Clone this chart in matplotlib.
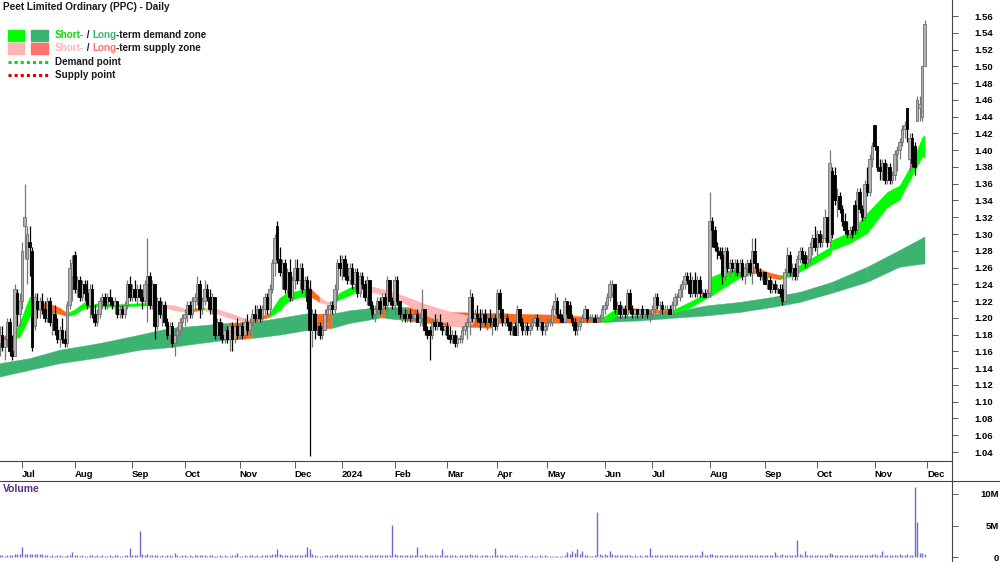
import matplotlib
matplotlib.use("Agg")
import matplotlib.pyplot as plt
import matplotlib.patches as mpatches
from matplotlib import font_manager
from matplotlib.transforms import IdentityTransform
from matplotlib.lines import Line2D
import numpy as np
import pandas as pd

W, H = 1000, 562

installed = {f.name for f in font_manager.fontManager.ttflist}
FONT = "Liberation Sans Narrow" if "Liberation Sans Narrow" in installed else "Liberation Sans"
plt.rcParams["font.family"] = [FONT, "DejaVu Sans"]

# trading days (ASX holidays removed)
START, END = "2023-06-20", "2024-11-29"
HOLIDAYS = ["2023-12-25", "2023-12-26", "2024-01-01", "2024-01-26",
            "2024-03-29", "2024-04-01", "2024-04-25", "2024-06-10"]

# daily prices in cents, one line per month (Jun-23 ... Nov-24)
opens = [
    117, 118, 116.5, 117.5, 119.5, 116, 115.5, 123, 120.5,
    122, 131, 127, 129, 128, 119, 122, 121, 122, 121, 120, 122, 119.5, 120.5, 118.5, 117.5, 118.5, 117.5, 117, 121.5, 125,
    127.5, 123.5, 124.5, 122.5, 124, 123, 121.5, 123.5, 120.5, 119.5, 120.5, 122, 122.5, 121.5, 122.5, 122, 121.5, 122, 120.5, 121, 120.5, 121.5, 124,
    122.5, 123.5, 122.5, 123.5, 122.5, 122, 124, 125, 121.5, 124, 119, 122, 120.5, 121.5, 119.5, 118, 119, 117, 118, 118.5, 119.5,
    120, 120.5, 121.5, 120.5, 122, 122.5, 124, 121, 122, 123.5, 122.5, 121, 122.5, 118, 119.5, 118, 117.5, 118.5, 117.5, 119, 117.5, 119,
    118, 119, 118, 119.5, 118.5, 119.5, 120.5, 120, 121, 120, 121, 122.5, 121, 123.5, 126.5, 131, 127, 125.5, 126.5, 123.5, 125.5, 122.5,
    124.5, 126, 124.5, 126, 123.5, 124.5, 123.5, 118.5, 120.5, 118.5, 119, 118, 118.5, 120.5, 121, 121.5, 121, 123.5, 126.5,
    126, 127, 125, 124.5, 126, 124, 125.5, 123, 125, 124, 122.5, 124.5, 121.5, 120.5, 121, 122, 121, 122.5, 121.5, 124.5, 122,
    121.5, 124.5, 122, 120.5, 120.5, 120, 120.5, 120, 120, 120.5, 119.5, 120, 121, 118.5, 118.5, 118, 119.5, 119, 119.5, 119, 118.5,
    119, 118, 117.5, 118, 117, 117.5, 117.5, 118.5, 119, 119.5, 122.5, 120, 120.5, 120, 119.5, 120.5, 119.5, 120, 119.5, 120,
    119, 123, 121, 119.5, 120, 119.5, 118.5, 119, 118, 121, 119.5, 118.5, 119, 118.5, 119, 119.5, 120, 119, 119.5, 118.5,
    119, 119.5, 119.5, 121, 122, 120.5, 120, 119.5, 122, 121.5, 120, 119.5, 118.5, 119, 119.5, 120, 121, 120, 120, 120, 119.5, 120, 120,
    121, 121.5, 122.5, 123, 124, 121, 121.5, 120.5, 121, 120.5, 123, 121, 120.5, 121, 120.5, 121, 120.5, 121, 120.5,
    120.5, 121, 122.5, 121.5, 121.5, 121, 121, 121, 120.5, 121.5, 122.5, 122.5, 123.5, 124, 125, 124.5, 123, 124.5, 123, 124.5, 123, 123, 122.5,
    123, 131.5, 130.5, 128.5, 128, 127.5, 125, 128, 126, 126.5, 126, 126.5, 125.5, 126.5, 125, 126, 126.5, 125.5, 128, 126.5, 125.5, 125,
    125.5, 124, 124.5, 123.5, 124, 123.5, 123.5, 123.5, 122, 125.5, 127.5, 125.5, 126, 125, 127, 128, 127.5, 126.5, 127, 128.5, 129.5,
    128.5, 130, 129, 129.5, 132, 129, 137.5, 137, 134, 134.5, 133, 131.5, 130.5, 130, 130.5, 133.5, 130.5, 135, 133, 132, 136, 135, 139,
    143, 140.5, 138, 137.5, 138.5, 136.5, 138, 136.5, 137, 139.5, 140, 141, 142.5, 145, 139, 141.5, 140.5, 143.5, 145, 144, 150,
]
highs = [
    119, 119, 118, 120, 120, 118, 124, 123.5, 123,
    129, 136, 131, 131, 128.5, 123, 123, 122.5, 123, 122, 122.5, 122.5, 121, 121.5, 120, 119, 120, 118.5, 122, 127, 127.5,
    128, 125, 125, 124.5, 124.5, 124.5, 124, 124, 121.5, 121, 122.5, 123, 123, 123, 123.5, 122.5, 122.5, 122, 121.5, 121.5, 122, 124.5, 125,
    124, 124.5, 124, 124, 123.5, 124.5, 129.5, 125.5, 124.5, 124, 122.5, 122.5, 122, 122, 120, 119.5, 119.5, 118.5, 119, 120, 120.5,
    121, 122, 122, 122.5, 123, 125, 124.5, 122.5, 124.5, 124, 123.5, 123, 122.5, 120, 120, 119.5, 119, 119, 119.5, 119.5, 119.5, 120,
    119.5, 119.5, 120, 120.5, 120, 121, 121.5, 121.5, 121.5, 121.5, 123, 123, 124, 127, 130, 131.5, 128.5, 127, 127, 126, 127, 125,
    127, 127, 126.5, 126.5, 125, 125, 124.5, 121, 121, 119.5, 119.5, 119, 121, 121.5, 122, 122, 124, 127, 127.5,
    127.5, 127.5, 126.5, 126.5, 126.5, 126, 126, 125.5, 125.5, 124.5, 125, 124.5, 122, 121.5, 122.5, 122.5, 123, 123, 125, 124.5, 122.5,
    125, 125, 122, 121, 121, 121, 121, 120.5, 121, 121, 120.5, 123.5, 121, 119, 119, 120, 120.5, 120, 120.5, 119.5, 119.5,
    119.5, 119, 118.5, 118.5, 118, 118, 119, 119.5, 120, 123.5, 123, 121, 121.5, 121, 121, 121, 120.5, 121, 120.5, 120.5,
    123.5, 123.5, 121, 120.5, 120.5, 119.5, 119.5, 119.5, 121.5, 121, 120, 119.5, 119.5, 119.5, 120, 120.5, 120.5, 120, 119.5, 119.5,
    120, 120, 121.5, 123, 122.5, 121, 120.5, 122.5, 122, 122, 120.5, 120, 119.5, 120, 120.5, 121.5, 121, 120.5, 120.5, 120.5, 120.5, 120.5, 121.5,
    122, 123, 124.5, 124.5, 124, 122, 122, 121.5, 121.5, 123.5, 123.5, 121.5, 121, 121, 121, 121.5, 121, 121, 121,
    121.5, 123, 123, 122, 122, 121.5, 121.5, 121.5, 122, 123, 123, 124, 124.5, 125.5, 125.5, 125.5, 125, 125.5, 125, 125, 123.5, 123.5, 123.5,
    135, 132, 131, 129, 128.5, 128.5, 128.5, 128.5, 127, 127, 127, 127, 127, 127, 126.5, 127, 127, 129.5, 129.5, 126.5, 126, 125.5,
    125.5, 125, 125, 124.5, 124.5, 124, 124, 124, 126, 128.5, 128, 126.5, 126.5, 127.5, 128.5, 128.5, 128, 127.5, 129, 130, 131,
    130.5, 130.5, 130, 133, 132, 140, 138, 138, 135.5, 135, 133.5, 132.5, 131.5, 131, 131, 134, 135.5, 135.5, 133.5, 136.5, 138, 139.5, 141,
    143, 140.5, 139, 139, 139, 138.5, 138.5, 137.5, 140, 140.5, 141.5, 143, 143.5, 145, 142, 142, 141, 146.5, 146.5, 150, 155.5,
]
lows = [
    115.5, 116, 115, 116.5, 115.5, 115, 115.5, 119, 119,
    121, 127, 124, 125, 116, 118.5, 120, 120, 120.5, 119.5, 119.5, 119, 118, 118, 117, 116.5, 117, 116.5, 116.5, 121, 122,
    123, 122.5, 122, 122, 122, 121, 120, 120, 119, 119, 120, 121, 121, 121, 121.5, 121, 120.5, 120, 120, 120, 120, 121, 122,
    122, 122, 121.5, 122, 121, 121.5, 119.5, 121, 121, 117.5, 118.5, 120, 119, 119, 117.5, 117, 116.5, 115.5, 117, 118, 118.5,
    119, 119.5, 120, 120, 121, 121.5, 120, 120.5, 121.5, 122, 120.5, 120.5, 117.5, 117.5, 117.5, 117, 117, 117, 116, 116, 117, 117.5,
    117.5, 117.5, 117.5, 118, 118, 119, 119.5, 119.5, 119.5, 119.5, 120.5, 120.5, 120.5, 123, 125, 126.5, 125, 123.5, 123, 123, 122, 122,
    123.5, 124, 123.5, 123, 122.5, 121, 103.5, 116.5, 117.5, 118, 117.5, 117.5, 118.5, 119.5, 120.5, 120.5, 120.5, 122, 125,
    124.5, 124.5, 124, 124, 123.5, 123.5, 122.5, 122.5, 123.5, 122, 121.5, 121, 120, 119.5, 120.5, 120.5, 120.5, 121, 120.5, 121.5, 121,
    120.5, 121.5, 120, 119.5, 119.5, 119.5, 119.5, 119.5, 119.5, 119.5, 119, 119, 118, 117.5, 115, 117.5, 118.5, 118.5, 118.5, 118, 118,
    117.5, 117, 117, 116.5, 116.5, 117, 117, 118, 117.5, 118, 119.5, 119, 119.5, 118.5, 119, 119, 118.5, 119, 118, 118.5,
    118.5, 120, 119, 119, 119, 118, 118, 118, 118, 119, 118, 118, 118, 118, 118.5, 119, 118.5, 118.5, 118, 118,
    118.5, 119, 119, 120.5, 120, 119.5, 119.5, 119.5, 120, 120, 119, 118, 118, 118.5, 119.5, 119.5, 119.5, 119.5, 119.5, 119.5, 119.5, 119.5, 120,
    120.5, 121, 122, 122.5, 120.5, 120, 120, 120, 120, 120, 120.5, 120, 120, 120, 120, 120, 120, 120, 119.5,
    120, 120.5, 121, 120.5, 120.5, 120.5, 120.5, 120.5, 120.5, 121, 121.5, 122, 122.5, 123.5, 124, 122.5, 122.5, 122.5, 122.5, 122.5, 122.5, 122.5, 122.5,
    122.5, 128.5, 128, 127, 127, 124, 124.5, 125.5, 125, 125.5, 125, 125, 125, 124.5, 124, 125, 125, 124, 126, 125, 124.5, 124.5,
    124, 123.5, 123, 123, 123, 123, 122.5, 121.5, 122, 125, 125, 124.5, 124.5, 124.5, 126.5, 126.5, 126, 126, 126.5, 127.5, 128,
    127.5, 128.5, 128.5, 129, 128.5, 128.5, 129.5, 133.5, 132, 132.5, 131, 130, 129.5, 129.5, 129.5, 130, 130, 132.5, 131.5, 131.5, 134.5, 134.5, 138,
    140, 137.5, 136.5, 136.5, 136, 136, 136, 136, 136.5, 137.5, 139, 140.5, 141.5, 141, 137.5, 138, 137, 143.5, 143.5, 143.5, 150,
]
closes = [
    118, 116.5, 117.5, 119.5, 116, 115.5, 123.5, 120.5, 122,
    128, 132, 130, 128.5, 116.5, 122.5, 121, 122, 121, 120, 122, 119.5, 120.5, 118.5, 117.5, 118.5, 117.5, 117, 121.5, 126, 126.5,
    123.5, 124.5, 122.5, 124, 123, 121.5, 123.5, 120.5, 119.5, 120.5, 122, 122.5, 121.5, 122.5, 122, 121.5, 122, 120.5, 121, 120.5, 121.5, 124, 122.5,
    123.5, 122.5, 123.5, 122.5, 122, 124, 125, 121.5, 124, 119, 122, 120.5, 121.5, 119.5, 118, 119, 117, 118, 118.5, 119.5, 120,
    120.5, 121.5, 120.5, 122, 122.5, 124, 121, 122, 123.5, 122.5, 121, 122.5, 118, 119.5, 118, 117.5, 118.5, 117.5, 119, 117.5, 119, 118,
    119, 118, 119.5, 118.5, 119.5, 120.5, 120, 121, 120, 121, 122.5, 121, 123.5, 126.5, 129.5, 127, 125.5, 126.5, 123.5, 125.5, 122.5, 124.5,
    126, 124.5, 126, 123.5, 124.5, 122, 118.5, 120.5, 118.5, 118.5, 118, 118.5, 120.5, 121, 121.5, 121, 123.5, 126.5, 126,
    127, 125, 124.5, 126, 124, 125.5, 123, 125, 124, 122.5, 124.5, 121.5, 120.5, 121, 122, 121, 122.5, 121.5, 124.5, 122, 121.5,
    124.5, 122, 120.5, 120.5, 120, 120.5, 120, 120, 120.5, 119.5, 120, 121, 118.5, 118, 118, 119.5, 119, 119.5, 119, 118.5, 119,
    118, 117.5, 118, 117, 117.5, 117.5, 118.5, 119, 119.5, 122.5, 120, 120.5, 120, 119.5, 120.5, 119.5, 120, 119.5, 120, 119,
    123, 121, 119.5, 120, 119.5, 118.5, 118.5, 118, 121, 119.5, 118.5, 119, 118.5, 119, 119.5, 120, 119, 119.5, 118.5, 119,
    119.5, 119.5, 121, 122, 120.5, 120, 119.5, 122, 120.5, 120, 119.5, 118.5, 119, 119.5, 120, 121, 120, 120, 120, 119.5, 120, 120, 121,
    121.5, 122.5, 124, 124, 121, 121.5, 120.5, 121, 120.5, 123, 121, 120.5, 121, 120.5, 121, 120.5, 121, 120.5, 120.5,
    121, 122.5, 121.5, 121.5, 121, 121, 121, 120.5, 121.5, 122.5, 122.5, 123.5, 124, 125, 124.5, 123, 124.5, 123, 124.5, 123, 123, 122.5, 123,
    131.5, 130.5, 128.5, 128, 127.5, 125, 128, 126, 126.5, 126, 126.5, 125.5, 126.5, 125, 126, 126.5, 125.5, 128, 126.5, 125.5, 125, 125,
    124, 124.5, 123.5, 124, 123.5, 123.5, 123, 122, 125.5, 127.5, 125.5, 126, 125, 127, 128, 127, 126.5, 127, 128.5, 129.5, 128.5,
    130, 129, 129.5, 132, 129, 138.5, 130, 134, 134.5, 133, 131.5, 130.5, 130, 130.5, 130, 130.5, 135, 133, 132, 136, 135, 139, 140.5,
    140.5, 138, 137.5, 138.5, 136.5, 138, 136.5, 137, 139.5, 140, 141, 142.5, 143, 142.5, 141.5, 138.5, 138, 146, 145.5, 150, 155,
]

# daily volume, thousands of shares
volume_k = [
    250, 300, 200, 350, 280, 300, 450, 500, 520,
    1600, 550, 500, 520, 480, 500, 520, 500, 480, 300, 250, 200, 280, 220, 300, 250, 200, 230, 260, 300, 800,
    300, 250, 220, 280, 240, 200, 260, 300, 220, 250, 230, 280, 210, 240, 260, 220, 250, 300, 240, 200, 260, 280, 1400,
    350, 300, 280, 4100, 400, 300, 450, 320, 260, 300, 250, 220, 280, 240, 260, 300, 220, 600, 250, 230, 260,
    260, 240, 300, 220, 280, 350, 300, 250, 270, 230, 260, 300, 240, 220, 250, 230, 270, 240, 220, 260, 250, 700,
    240, 220, 260, 230, 250, 280, 240, 260, 230, 250, 280, 300, 350, 420, 500, 1300, 450, 380, 300, 350, 280, 300,
    300, 280, 350, 320, 400, 1600, 1300, 500, 350, 200, 150, 180, 250, 300, 260, 280, 350, 400, 300,
    320, 280, 260, 300, 250, 280, 300, 260, 240, 280, 300, 320, 350, 280, 260, 300, 250, 280, 320, 300, 5100,
    400, 350, 320, 300, 280, 300, 260, 280, 300, 1600, 350, 300, 400, 320, 280, 300, 260, 280, 300, 1300, 280,
    260, 280, 300, 250, 240, 260, 280, 300, 320, 450, 350, 280, 260, 240, 250, 280, 260, 240, 300, 1500,
    350, 300, 280, 260, 240, 250, 270, 300, 260, 240, 220, 250, 240, 230, 250, 220, 240, 260, 230, 250,
    220, 200, 180, 160, 150, 170, 200, 300, 800, 400, 1000, 600, 1200, 500, 900, 350, 250, 220, 200, 250, 7100, 400, 300,
    400, 350, 1000, 450, 380, 300, 280, 260, 300, 280, 260, 240, 250, 230, 260, 240, 250, 280, 1400,
    350, 300, 280, 320, 300, 280, 260, 300, 280, 320, 350, 300, 320, 340, 300, 280, 300, 320, 300, 280, 900, 300, 280,
    500, 400, 350, 300, 320, 300, 280, 300, 260, 280, 300, 260, 250, 280, 300, 260, 280, 320, 300, 260, 280, 300,
    280, 260, 300, 280, 800, 300, 280, 400, 350, 300, 280, 260, 300, 2700, 400, 350, 1000, 300, 280, 300, 260,
    280, 300, 260, 320, 300, 600, 450, 350, 300, 280, 260, 300, 280, 260, 300, 280, 320, 300, 280, 300, 350, 320, 400,
    400, 350, 300, 900, 320, 300, 280, 300, 320, 350, 400, 380, 350, 420, 380, 350, 11100, 5600, 600, 700, 500,
]

# long-term zone edges (cents) read at these trading-day numbers; state per segment
lt_day = [0, 12, 24, 40, 56, 68, 80, 91, 101, 112, 124, 127, 133, 140, 152, 154, 163, 180,
          196, 200, 216, 241, 256, 269, 283, 296, 309, 320, 333, 347, 360, 370]
lt_top = [114.6, 115.2, 116.2, 117.0, 118.0, 118.8, 119.1, 119.4, 119.5, 120.0, 120.6, 120.5,
          120.5, 120.9, 121.3, 121.3, 121.3, 120.7, 120.6, 120.6, 120.3, 120.1, 120.3, 120.7,
          121.5, 121.9, 122.5, 123.1, 124.3, 126.1, 128.1, 129.7]
lt_bot = [113.0, 113.8, 114.6, 115.3, 116.2, 116.5, 117.0, 117.4, 117.6, 118.0, 118.6, 118.6,
          118.8, 119.4, 120.0, 120.0, 119.7, 119.1, 118.8, 119.4, 119.4, 119.5, 119.7, 120.0,
          120.3, 120.7, 121.3, 121.9, 123.0, 124.3, 126.1, 126.5]
lt_state = "GGGGGGGOGGGOGGOGOOOOOGGGGGGGGGG"

# short-term zone edges (cents); g = demand, p = supply, o = supply (dark)
st_day = [0, 5, 8, 12, 14, 15, 20, 24, 27, 30, 34, 38, 44, 52, 60, 63, 70, 75, 80, 82,
          84, 92, 100, 104, 108, 112, 115, 120, 123, 124, 128, 131, 133, 136, 140, 144, 145, 148, 155, 161,
          168, 175, 181, 187, 190, 200, 220, 241, 244, 247, 248, 260, 269, 276, 283, 284, 288, 296, 301, 303,
          307, 312, 313, 319, 320, 332, 333, 340, 347, 355, 360, 364, 369, 370]
st_top = [117.8, 117.8, 119.4, 122.5, 122.3, 121.8, 121.7, 121.2, 120.6, 121.0,
          121.9, 121.6, 121.6, 121.7, 121.8, 121.7, 121.5, 121.0, 121.2, 121.2,
          121.3, 120.6, 119.7, 120.2, 120.6, 122.4, 123.0, 123.3, 123.7, 123.6,
          122.5, 121.9, 122.0, 123.0, 123.6, 124.0, 124.1, 123.8, 123.3, 122.7,
          121.9, 121.2, 120.7, 120.3, 120.4, 120.5, 120.4, 120.0, 120.6, 121.2,
          121.3, 121.0, 120.9, 121.9, 123.0, 124.8, 125.3, 126.0, 126.1, 126.0,
          125.5, 125.1, 125.1, 126.0, 126.3, 128.4, 129.3, 130.2, 132.5, 135.0,
          135.8, 137.9, 141.5, 141.8]
st_bot = [117.6, 117.5, 117.7, 120.1, 120.8, 121.0, 120.7, 120.5, 120.2, 120.4,
          121.2, 121.3, 121.3, 121.4, 121.5, 121.5, 120.9, 120.7, 120.9, 120.9,
          120.8, 120.0, 119.4, 119.8, 120.1, 120.9, 121.9, 122.5, 122.5, 122.6,
          121.9, 121.6, 121.8, 122.2, 122.7, 123.3, 123.7, 123.1, 122.7, 121.9,
          120.7, 119.7, 119.1, 118.8, 119.6, 120.0, 120.0, 119.7, 119.7, 120.3,
          120.7, 120.6, 120.6, 121.2, 122.4, 122.5, 123.3, 124.8, 125.3, 125.3,
          124.9, 124.6, 124.7, 125.1, 125.5, 127.5, 128.1, 128.9, 130.1, 133.2,
          134.1, 136.4, 139.2, 139.2]
st_state = ("oggggooo" "ggggggg" "ppo" "gppp" "oo" "gggg" "oopp" "gggg" "o"
            "ppppppp" "ooo" "gg" "ooo" "gggggg" "oooo" "ggggggggggg")

ZONE_COLORS = {"G": "#3cb371", "O": "#ff6a1a", "g": "#00ff00", "p": "#ffb6b6", "o": "#ff6a1a"}


def px_axes(fig, x0, y0, x1, y1):
    return fig.add_axes([x0 / W, 1 - y1 / H, (x1 - x0) / W, (y1 - y0) / H])


def draw_zone(ax, days, top, bot, states, z):
    days = np.asarray(days, float)
    top = np.asarray(top) / 100
    bot = np.asarray(bot) / 100
    for i, s in enumerate(states):
        col = ZONE_COLORS[s]
        ax.fill_between(days[i:i + 2], bot[i:i + 2], top[i:i + 2], color=col,
                        edgecolor=col, lw=0.3, zorder=z)


def colored_text(fig, x, y, parts, size):
    r = fig.canvas.get_renderer()
    for s, col in parts:
        t = fig.text(x, H - y, s, color=col, fontsize=size, fontweight="bold",
                     va="center", ha="left", transform=IdentityTransform())
        x += t.get_window_extent(r).width


def main():
    days = pd.bdate_range(START, END)
    days = days[~days.isin(pd.to_datetime(HOLIDAYS))]
    n = len(days)
    o = np.array(opens) / 100
    hi = np.array(highs) / 100
    lo = np.array(lows) / 100
    c = np.array(closes) / 100
    vol = np.array(volume_k) * 1000
    assert n == len(o) == len(hi) == len(lo) == len(c) == len(vol), (n, len(o), len(hi), len(lo), len(c), len(vol))
    x = np.arange(n)

    fig = plt.figure(figsize=(W / 100, H / 100), dpi=100)
    ax = px_axes(fig, 0, 0, 952, 461)
    axv = px_axes(fig, 0, 481, 952, 562)

    # zones
    draw_zone(ax, lt_day, lt_top, lt_bot, lt_state, 1)
    draw_zone(ax, st_day, st_top, st_bot, st_state, 2)

    # candles
    up = c >= o
    body_lo = np.minimum(o, c)
    body_h = np.maximum(np.abs(c - o), 0.0008)
    ax.vlines(x[up], lo[up], hi[up], color="#777777", lw=0.9, zorder=3)
    ax.vlines(x[~up], lo[~up], hi[~up], color="black", lw=0.9, zorder=3)
    ax.bar(x[up], body_h[up], bottom=body_lo[up], width=0.9, color="#b0b0b0",
           edgecolor="#707070", lw=0.6, zorder=4)
    ax.bar(x[~up], body_h[~up], bottom=body_lo[~up], width=0.9, color="black",
           edgecolor="black", lw=0.6, zorder=4)

    ax.set_xlim(0.2, 381.0)
    ax.set_ylim(1.0293, 1.5791)

    # month ticks
    pos, lbl = [], []
    for i in range(1, n):
        if days[i].month != days[i - 1].month:
            pos.append(i)
            lbl.append(str(days[i].year) if days[i].month == 1 else days[i].strftime("%b"))
    pos.append(n)
    lbl.append("Dec")
    ax.set_xticks(pos)
    ax.set_xticklabels(lbl, ha="left", fontweight="bold")
    ax.tick_params(axis="x", direction="out", length=5, width=0.6, color="#444444",
                   pad=1.5, labelsize=6.8)

    yt = np.arange(104, 157, 2) / 100
    ax.yaxis.tick_right()
    ax.set_yticks(yt)
    ax.set_yticklabels([f"{v:.2f}" for v in yt], fontweight="bold")
    ax.tick_params(axis="y", direction="out", length=4, width=0.6, color="#444444",
                   pad=12, labelsize=6.8)
    for s in ("top", "left"):
        ax.spines[s].set_visible(False)
    for s in ("right", "bottom"):
        ax.spines[s].set_color("#444444")
        ax.spines[s].set_linewidth(0.8)

    # volume pane
    axv.vlines(x, 0, vol, color="#6a6ad8", lw=1.0)
    axv.set_xlim(0.2, 381.0)
    axv.set_ylim(-0.79e6, 12.06e6)
    axv.set_xticks([])
    axv.yaxis.tick_right()
    axv.set_yticks([0, 5e6, 10e6])
    axv.set_yticklabels(["0", "5M", "10M"], ha="right", fontweight="bold")
    axv.tick_params(axis="y", direction="out", length=4, width=0.6, color="#444444",
                    pad=30, labelsize=6.8)
    for s in ("top", "left", "bottom"):
        axv.spines[s].set_visible(False)
    axv.spines["right"].set_color("#444444")
    axv.spines["right"].set_linewidth(0.8)

    idt = IdentityTransform()
    fig.add_artist(Line2D([0, W], [H - 481, H - 481], color="#444444", lw=0.8, transform=idt))
    fig.add_artist(Line2D([952, 952], [H - 481, H - 461], color="#444444", lw=0.8, transform=idt))

    fig.text(3, H - 489, "Volume", color="#5a2d91", fontsize=7.5, fontweight="bold",
             va="center", ha="left", transform=idt)

    # title and legend
    fig.text(3, H - 7, "Peet Limited Ordinary (PPC) - Daily", color="#1a1a1a", fontsize=7.2,
             fontweight="bold", va="center", ha="left", transform=idt)
    for (y0, c1, c2) in ((30, "#00ff00", "#3cb371"), (43, "#ffb3b3", "#ff7070")):
        fig.add_artist(mpatches.Rectangle((8, H - y0 - 11), 16, 11, color=c1, transform=idt))
        fig.add_artist(mpatches.Rectangle((31, H - y0 - 11), 17, 11, color=c2, transform=idt))
    colored_text(fig, 55, 35, [("Short-", "#00e000"), (" / ", "#1a1a1a"), ("Long", "#3cb371"),
                               ("-term demand zone", "#1a1a1a")], 7.1)
    colored_text(fig, 55, 48, [("Short-", "#ffb3b3"), (" / ", "#1a1a1a"), ("Long", "#ff7070"),
                               ("-term supply zone", "#1a1a1a")], 7.1)
    fig.add_artist(Line2D([8, 48], [H - 62, H - 62], color="#00e000", lw=2.2,
                          dashes=(1, 1), transform=idt))
    fig.add_artist(Line2D([8, 48], [H - 75, H - 75], color="#e00000", lw=2.2,
                          dashes=(1, 1), transform=idt))
    fig.text(55, H - 62, "Demand point", color="#1a1a1a", fontsize=7.1, fontweight="bold",
             va="center", ha="left", transform=idt)
    fig.text(55, H - 75, "Supply point", color="#1a1a1a", fontsize=7.1, fontweight="bold",
             va="center", ha="left", transform=idt)

    fig.savefig("out.png", dpi=100)


if __name__ == "__main__":
    main()
